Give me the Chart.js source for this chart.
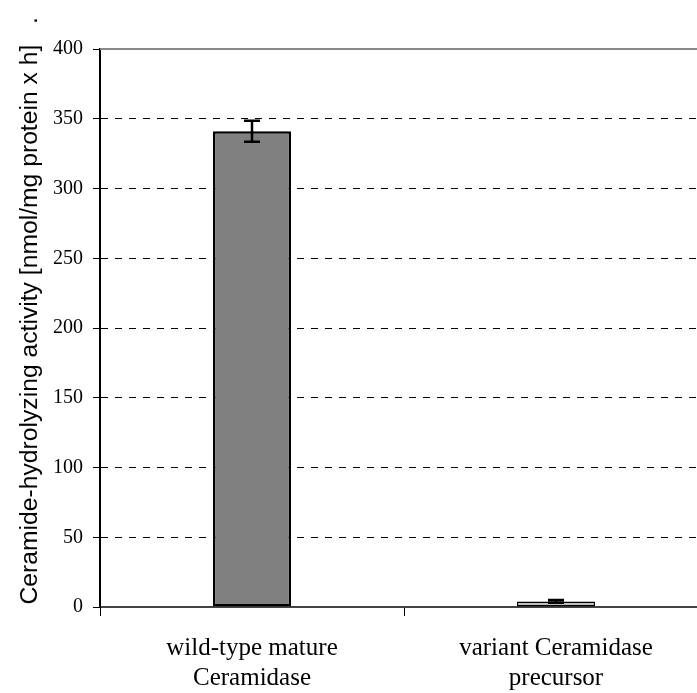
<!DOCTYPE html>
<html>
<head>
<meta charset="utf-8">
<script src="https://cdn.jsdelivr.net/npm/chart.js@4.4.1/dist/chart.umd.min.js"></script>
<style>
  html, body { margin: 0; padding: 0; overflow: hidden; background: #fff; }
  #wrap { width: 712px; height: 693px; }
</style>
</head>
<body>
<div id="wrap"><canvas id="myChart" width="712" height="693"></canvas></div>
<script>
// data
var categories = [['wild-type mature', 'Ceramidase'], ['variant Ceramidase', 'precursor']];
var activity = [341, 4];
var errors = [7.5, 1];
var barColors = ['#808080', '#c0c0c0'];
var yTicks = [0, 50, 100, 150, 200, 250, 300, 350, 400];

// error bars + solid top line at 400
const extras = {
    id: 'extras',
    afterDatasetsDraw(chart) {
        const c = chart.ctx;
        const y = chart.scales.y;
        const meta = chart.getDatasetMeta(0);
        c.save();
        c.strokeStyle = '#000';
        c.lineWidth = 2.5;
        meta.data.forEach(function (bar, i) {
            const top = y.getPixelForValue(activity[i] + errors[i]);
            const bot = y.getPixelForValue(activity[i] - errors[i]);
            c.beginPath();
            c.moveTo(bar.x, top); c.lineTo(bar.x, bot);
            c.moveTo(bar.x - 8, top); c.lineTo(bar.x + 8, top);
            c.moveTo(bar.x - 8, bot); c.lineTo(bar.x + 8, bot);
            c.stroke();
        });
        const a = chart.chartArea;
        c.strokeStyle = '#888';
        c.lineWidth = 2;
        c.beginPath();
        c.moveTo(a.left, a.top); c.lineTo(a.right, a.top);
        c.stroke();
        c.restore();
    }
};

const ctx = document.getElementById('myChart').getContext('2d');
const myChart = new Chart(ctx, {
    type: 'bar',
    data: {
        labels: categories,
        datasets: [{
            data: activity,
            backgroundColor: barColors,
            borderColor: '#000',
            borderWidth: [2.5, 1.5],
            borderSkipped: false,
            categoryPercentage: 1,
            barPercentage: 0.257
        }]
    },
    options: {
        responsive: false,
        animation: false,
        layout: { padding: { top: 49, right: 4, left: 0, bottom: 0 } },
        plugins: { legend: { display: false }, tooltip: { enabled: false } },
        scales: {
            x: {
                grid: {
                    offset: true,
                    drawOnChartArea: false,
                    drawTicks: true,
                    tickLength: 9,
                    color: '#000',
                    lineWidth: 1
                },
                border: { color: '#444', width: 2 },
                ticks: {
                    color: '#000',
                    font: { family: 'Liberation Serif', size: 25 },
                    padding: 17
                },
                afterFit: function (s) { s.height = 86; }
            },
            y: {
                min: 0,
                max: 400,
                afterBuildTicks: function (s) { s.ticks = yTicks.map(function (v) { return { value: v }; }); },
                grid: {
                    color: function (ctx) { return (ctx.tick && (ctx.tick.value === 0 || ctx.tick.value === 400)) ? 'rgba(0,0,0,0)' : '#000'; },
                    tickColor: '#000',
                    lineWidth: 1,
                    tickLength: 7
                },
                border: { color: '#000', width: 2, dash: [7, 7] },
                ticks: {
                    color: '#000',
                    font: { family: 'Liberation Serif', size: 20 },
                    padding: 10
                },
                title: {
                    display: true,
                    text: '     Ceramide-hydrolyzing activity [nmol/mg protein x h]   .',
                    color: '#000',
                    font: { family: 'Liberation Sans', size: 24.7 },
                    padding: { top: 15, bottom: 0 }
                },
                afterFit: function (s) { s.width = 100; }
            }
        }
    },
    plugins: [extras]
});
</script>
</body>
</html>
